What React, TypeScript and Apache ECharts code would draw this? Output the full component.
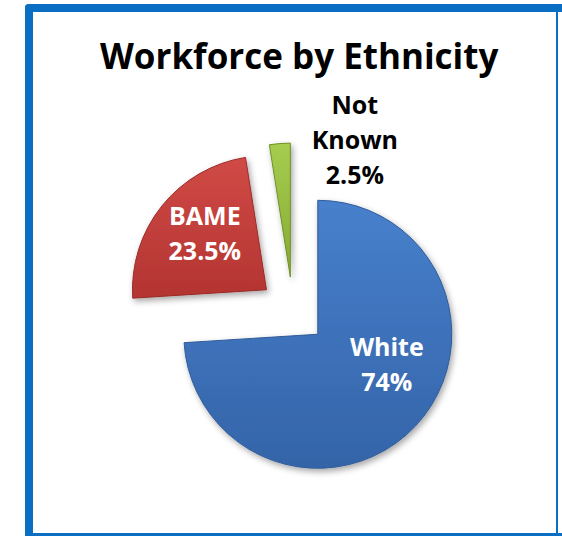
import React, { useEffect, useRef } from "react";
import * as echarts from "echarts";

const categories = ["White", "BAME", "Not Known"];
const values = [74, 23.5, 2.5];
const labelLines = ["White", "BAME", "Not\nKnown"];

const FONT = "'Open Sans', 'Liberation Sans', sans-serif";

export default function App() {
  const ref = useRef<HTMLDivElement>(null);
  useEffect(() => {
    if (!ref.current) return;
    const chart = echarts.init(ref.current, undefined, { renderer: "svg" });
    const grad = (a: string, b: string) =>
      new echarts.graphic.LinearGradient(0, 0, 0, 1, [
        { offset: 0, color: a },
        { offset: 1, color: b },
      ]);
    const fills = [
      grad("#4780cc", "#3464a8"),
      grad("#d04a46", "#b33431"),
      grad("#a6cd50", "#84a932"),
    ];
    const borders = ["#2f5b99", "#9a2b28", "#6f9128"];
    const labelColors = ["#ffffff", "#ffffff", "#000000"];
    const offsets = [
      { dx: 18, dy: -19 },
      { dx: -7, dy: -13 },
      { dx: 70, dy: -68 },
    ];
    const blue = "#0a6fc2";
    chart.setOption({
      animation: false,
      backgroundColor: "#ffffff",
      title: {
        text: "Workforce by Ethnicity",
        left: 95,
        top: 33,
        textStyle: {
          fontFamily: FONT,
          fontWeight: "bold",
          fontSize: 35,
          color: "#000000",
        },
      },
      graphic: [
        { type: "rect", shape: { x: 25, y: 4, width: 537, height: 8, r: [4, 0, 0, 0] }, style: { fill: blue }, silent: true },
        { type: "rect", shape: { x: 25, y: 4, width: 8, height: 532, r: [4, 0, 0, 0] }, style: { fill: blue }, silent: true },
        { type: "rect", shape: { x: 556, y: 12, width: 2, height: 522 }, style: { fill: blue }, silent: true },
        { type: "rect", shape: { x: 25, y: 533, width: 537, height: 3 }, style: { fill: blue }, silent: true },
      ],
      series: [
        {
          type: "pie",
          center: [293, 311],
          radius: 134,
          startAngle: 90,
          clockwise: true,
          selectedMode: "multiple",
          selectedOffset: 34,
          silent: true,
          emphasis: { disabled: true },
          labelLine: { show: false },
          label: {
            show: true,
            position: "inside",
            fontFamily: FONT,
            fontWeight: "bold",
            fontSize: 25,
            lineHeight: 35,
            align: "center",
          },
          labelLayout: (p: any) => offsets[p.dataIndex],
          data: categories.map((name, i) => ({
            name,
            value: values[i],
            selected: true,
            itemStyle: {
              color: fills[i],
              borderColor: borders[i],
              borderWidth: 1,
              shadowBlur: 6,
              shadowOffsetX: 2,
              shadowOffsetY: 3,
              shadowColor: "rgba(0,0,0,0.35)",
            },
            label: {
              color: labelColors[i],
              formatter: labelLines[i] + "\n" + values[i] + "%",
            },
          })),
        },
      ],
    });
    return () => chart.dispose();
  }, []);
  return (
    <div
      ref={ref}
      style={{ position: "absolute", left: 0, top: 0, width: 562, height: 536 }}
    />
  );
}
